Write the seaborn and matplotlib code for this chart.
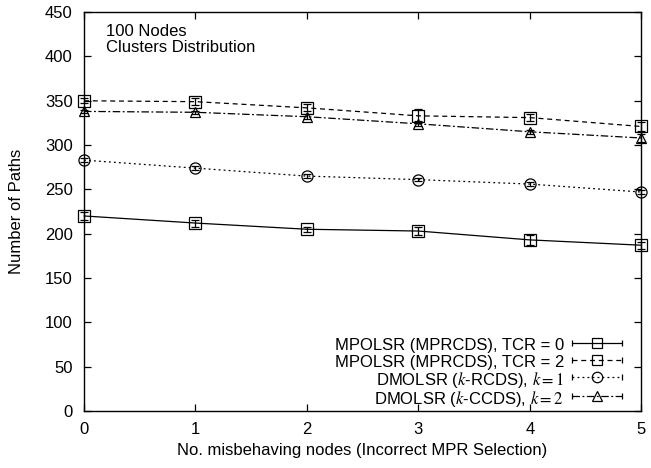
import numpy as np
import pandas as pd
import matplotlib
matplotlib.use("Agg")
import matplotlib.pyplot as plt
import seaborn as sns
from matplotlib.legend_handler import HandlerLine2D
from matplotlib.lines import Line2D

x = [0, 1, 2, 3, 4, 5]

tcr0 = [220, 212, 205, 203, 193, 187]
tcr0_err = [4, 4, 3, 4, 6, 4]
tcr2 = [350, 349, 342, 333, 331, 321]
tcr2_err = [3, 4, 4, 8, 4, 5]
rcds = [283, 274, 265, 261, 256, 247]
rcds_err = [2, 2, 2, 2, 2, 2]
ccds = [338, 337, 332, 324, 315, 308]
ccds_err = [2, 2, 3, 3, 2, 4]

labels = [
    "MPOLSR (MPRCDS), TCR = 0",
    "MPOLSR (MPRCDS), TCR = 2",
    r"DMOLSR ($k$-RCDS), $\mathit{k=1}$",
    r"DMOLSR ($k$-CCDS), $\mathit{k=2}$",
]

sns.set_style("ticks")
plt.rcParams["font.family"] = ["Liberation Sans", "DejaVu Sans"]
plt.rcParams["mathtext.fontset"] = "stix"
plt.rcParams["font.size"] = 12
for key in ["text.color", "axes.labelcolor", "xtick.color", "ytick.color",
            "axes.edgecolor"]:
    plt.rcParams[key] = "black"

series = [
    (tcr0, tcr0_err, "s", "-"),
    (tcr2, tcr2_err, "s", (0, (4, 3))),
    (rcds, rcds_err, "o", (0, (1.5, 2.5))),
    (ccds, ccds_err, "^", (0, (6, 2, 1.5, 2))),
]


class HandlerCapped(HandlerLine2D):
    def create_artists(self, legend, orig_handle, xdescent, ydescent,
                       width, height, fontsize, trans):
        artists = super().create_artists(legend, orig_handle, xdescent, ydescent,
                                         width, height, fontsize, trans)
        y = (height - ydescent) / 2
        caps = Line2D([-xdescent, -xdescent + width], [y, y], linestyle="none",
                      marker="|", markersize=5, markeredgewidth=0.9,
                      color="black", transform=trans)
        return list(artists) + [caps]


fig, ax = plt.subplots(figsize=(6.51, 4.68), dpi=100)

handles = []
for (vals, errs, mk, ls), lab in zip(series, labels):
    ms = 8 if mk != "^" else 7
    df = pd.DataFrame({"x": x, "y": vals})
    sns.lineplot(data=df, x="x", y="y", ax=ax, color="black", linewidth=0.9,
                 linestyle=ls, marker=mk, markersize=ms,
                 markerfacecolor="none", markeredgecolor="black",
                 markeredgewidth=0.9, clip_on=False)
    ax.errorbar(x, vals, yerr=errs, fmt="none", ecolor="black",
                elinewidth=0.9, capsize=3, capthick=0.9, clip_on=False)
    handles.append(Line2D([], [], color="black", linewidth=0.9, linestyle=ls,
                          marker=mk, markersize=ms - 0.5,
                          markerfacecolor="none", markeredgewidth=0.9,
                          label=lab))

ax.set_xlim(0, 5)
ax.set_ylim(0, 450)
ax.set_xticks(x)
ax.set_yticks(np.arange(0, 451, 50))
ax.tick_params(direction="in", top=True, right=True, length=5, width=0.9,
               labelsize=12, pad=8)
for sp in ax.spines.values():
    sp.set_visible(True)
    sp.set_linewidth(1.0)

ax.set_xlabel("No. misbehaving nodes (Incorrect MPR Selection)", fontsize=12,
              labelpad=4)
ax.set_ylabel("Number of Paths", fontsize=12, labelpad=15)

ax.text(0.04, 0.97, "100 Nodes\nClusters Distribution", transform=ax.transAxes,
        ha="left", va="top", fontsize=12, linespacing=1.05)

ax.legend(handles=handles, loc="lower right", bbox_to_anchor=(0.966, 0.006),
          frameon=False, markerfirst=False,
          handlelength=3.0, handletextpad=0.5, labelspacing=-0.07,
          handleheight=1.3, borderaxespad=0, borderpad=0, fontsize=12,
          handler_map={Line2D: HandlerCapped(numpoints=1)})

fig.subplots_adjust(left=0.129, right=0.985, top=0.974, bottom=0.122)
fig.savefig("out.png", dpi=100)
